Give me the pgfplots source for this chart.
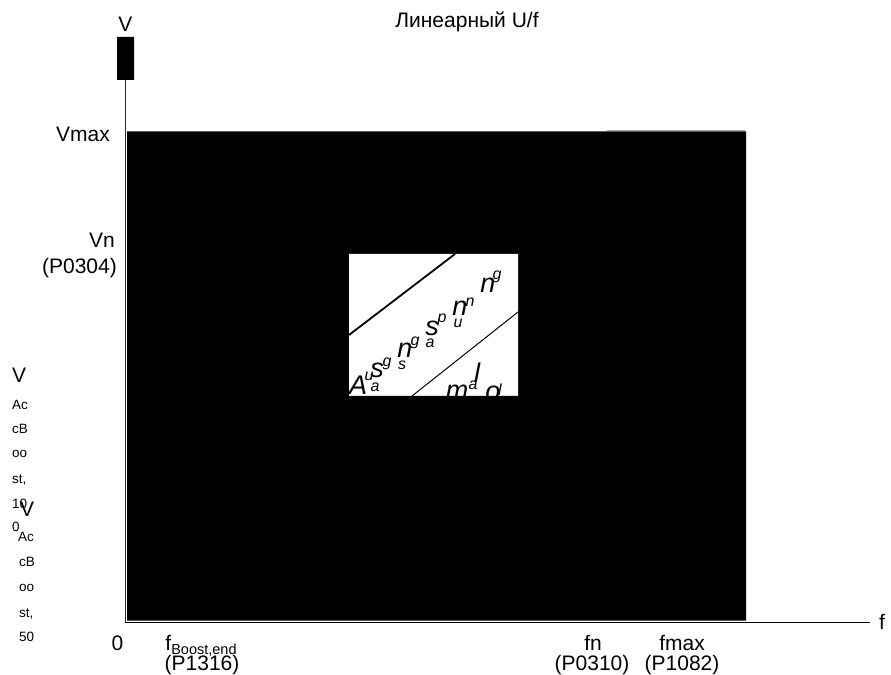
\documentclass[border=0pt]{standalone}
\usepackage{fontspec}
\setmainfont{Liberation Sans}
\usepackage{pgfplots}
\pgfplotsset{compat=1.18}
\newcommand{\lbl}{\fontsize{21bp}{24bp}\selectfont}
\newcommand{\sml}{\fontsize{13.5bp}{15bp}\selectfont}
\newcommand{\subf}{\fontsize{14.5bp}{16bp}\selectfont}
\newcommand{\bigit}{\fontsize{27bp}{30bp}\selectfont\itshape}
\newcommand{\supit}{\fontsize{16bp}{18bp}\selectfont\itshape}
\begin{document}
\begin{tikzpicture}
\begin{axis}[scale only axis, width=891bp, height=675bp,
  xmin=-125, xmax=766, ymin=-53, ymax=622, hide axis, clip=false]
% black area
\addplot[fill=black, draw=none] coordinates {(2,1.3) (621,1.3) (621,490.5) (2,490.5) (2,1.3)};
\addplot[draw=gray!70, line width=0.8bp] coordinates {(482,491.2) (620,491.2)};
% axes
\addplot[draw=black!85, line width=0.8bp] coordinates {(0,0) (0,542)};
\addplot[draw=black, line width=1bp] coordinates {(0,0) (745,0)};
% small black block on the V axis
\addplot[fill=black, draw=none] coordinates {(-8,542) (9,542) (9,585) (-8,585) (-8,542)};
% white inset
\addplot[fill=white, draw=none] coordinates {(224,226) (393,226) (393,368) (224,368) (224,226)};
\addplot[black, line width=1.8bp] coordinates {(224,287) (330,368)};
\addplot[black, line width=1bp] coordinates {(287,226) (393,310)};

% title and axis names
\node[anchor=base, inner sep=0, font=\lbl] at (axis cs:342,594) {Линеарный U/f};
\node[anchor=base, inner sep=0, font=\lbl] at (axis cs:0.5,590) {V};
\node[anchor=west, inner sep=0, font=\lbl] at (axis cs:754,0) {f};

% V labels
\node[anchor=base east, inner sep=0, font=\lbl] at (axis cs:-15,480) {Vmax};
\node[anchor=base east, inner sep=0, font=\lbl] at (axis cs:-10,374) {Vn};
\node[anchor=base east, inner sep=0, font=\lbl] at (axis cs:-8,348) {(P0304)};

% broken boost labels, group 1
\node[anchor=base west, inner sep=0, font=\lbl] at (axis cs:-113,239) {V};
\node[anchor=base west, inner sep=0, font=\sml] at (axis cs:-113,212) {Ac};
\node[anchor=base west, inner sep=0, font=\sml] at (axis cs:-113,188) {cB};
\node[anchor=base west, inner sep=0, font=\sml] at (axis cs:-113,164) {oo};
\node[anchor=base west, inner sep=0, font=\sml] at (axis cs:-113,138) {st,};
\node[anchor=base west, inner sep=0, font=\sml] at (axis cs:-113,113) {10};
\node[anchor=base west, inner sep=0, font=\sml] at (axis cs:-113,90) {0};
% group 2
\node[anchor=base west, inner sep=0, font=\lbl] at (axis cs:-105,105) {V};
\node[anchor=base west, inner sep=0, font=\sml] at (axis cs:-107,80) {Ac};
\node[anchor=base west, inner sep=0, font=\sml] at (axis cs:-106,55) {cB};
\node[anchor=base west, inner sep=0, font=\sml] at (axis cs:-106,31) {oo};
\node[anchor=base west, inner sep=0, font=\sml] at (axis cs:-106,5) {st,};
\node[anchor=base west, inner sep=0, font=\sml] at (axis cs:-106,-19) {50};

% f labels
\node[anchor=base, inner sep=0, font=\lbl] at (axis cs:-7.5,-28) {0};
\node[anchor=base, inner sep=0, font=\lbl] at (axis cs:76,-28) {f\raisebox{-4bp}{\subf Boost,end}};
\node[anchor=base, inner sep=0, font=\lbl] at (axis cs:77,-48) {(P1316)};
\node[anchor=base, inner sep=0, font=\lbl] at (axis cs:468,-28) {fn};
\node[anchor=base, inner sep=0, font=\lbl] at (axis cs:467,-48) {(P0310)};
\node[anchor=base, inner sep=0, font=\lbl] at (axis cs:557,-28) {fmax};
\node[anchor=base, inner sep=0, font=\lbl] at (axis cs:557,-48) {(P1082)};

% scattered italic letters in the inset
\node[inner sep=0, font=\bigit] at (axis cs:233,237) {A};
\node[inner sep=0, font=\supit] at (axis cs:244,246) {u};
\node[inner sep=0, font=\bigit] at (axis cs:252,252) {s};
\node[inner sep=0, font=\supit] at (axis cs:250,235) {a};
\node[inner sep=0, font=\supit] at (axis cs:262,258) {g};
\node[inner sep=0, font=\bigit] at (axis cs:280,272) {n};
\node[inner sep=0, font=\supit] at (axis cs:290,279) {g};
\node[inner sep=0, font=\supit] at (axis cs:277,257) {s};
\node[inner sep=0, font=\bigit] at (axis cs:307,294) {s};
\node[inner sep=0, font=\supit] at (axis cs:317,302) {p};
\node[inner sep=0, font=\supit] at (axis cs:305,279) {a};
\node[inner sep=0, font=\bigit] at (axis cs:335,314) {n};
\node[inner sep=0, font=\supit] at (axis cs:345,320) {n};
\node[inner sep=0, font=\supit] at (axis cs:333,299) {u};
\node[inner sep=0, font=\bigit] at (axis cs:363,337) {n};
\node[inner sep=0, font=\supit] at (axis cs:372,345) {g};
\node[inner sep=0, font=\bigit] at (axis cs:332,230) {m};
\node[inner sep=0, font=\supit] at (axis cs:348,237) {a};
\node[inner sep=0, font=\bigit] at (axis cs:352,249) {l};
\node[inner sep=0, font=\bigit] at (axis cs:368,229) {o};
\node[inner sep=0, font=\supit] at (axis cs:375,232) {l};
% re-cover what falls outside the inset
\addplot[fill=black, draw=none] coordinates {(224,200) (400,200) (400,226) (224,226) (224,200)};
\end{axis}
\pgfresetboundingbox
\path (current axis.south west) rectangle (current axis.north east);
\end{tikzpicture}
\end{document}
